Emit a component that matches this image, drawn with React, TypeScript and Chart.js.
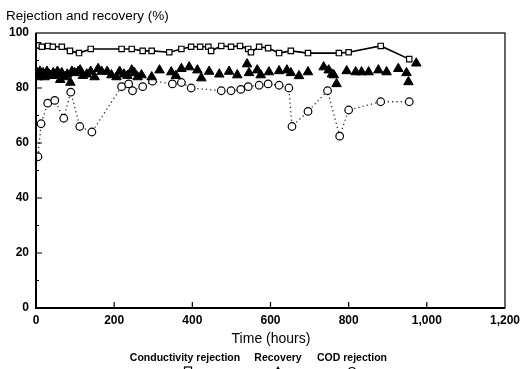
import React, { useEffect, useRef } from "react";
import { Chart, registerables } from "chart.js";

Chart.register(...registerables);

// ---- Data ----
const xTicks = [0, 200, 400, 600, 800, 1000, 1200];
const yTicks = [0, 20, 40, 60, 80, 100];
const yMinorTicks = [10, 30, 50, 70, 90];

const condHours = [0, 5, 15, 31, 43, 66, 87, 110, 140, 219, 245, 273, 296, 341, 372, 397, 420, 441, 448, 474, 499, 522, 543, 550, 571, 594, 622, 652, 696, 775, 800, 882, 955];
const condValues = [95.5, 95.5, 95, 95.3, 95, 95, 93.5, 92.7, 94.2, 94.2, 94.2, 93.5, 93.5, 93, 94.2, 95, 95, 95, 93.5, 95.3, 95, 95.3, 94.2, 93, 95, 94.5, 92.7, 93.5, 92.7, 92.7, 93, 95.3, 90.5];

const recHours = [0, 3, 6, 10, 14, 18, 22, 28, 33, 38, 44, 48, 55, 62, 66, 74, 80, 88, 92, 99, 108, 113, 120, 130, 140, 150, 159, 168, 182, 193, 206, 214, 225, 234, 245, 252, 260, 270, 296, 316, 346, 358, 372, 392, 413, 423, 443, 469, 494, 515, 540, 545, 566, 575, 596, 622, 642, 652, 673, 696, 736, 749, 757, 762, 769, 795, 818, 833, 851, 876, 897, 927, 948, 953, 973];
const recValues = [84.5, 85.5, 84, 86, 85, 85.5, 84, 86, 85, 84.5, 85.5, 84.5, 86, 83, 85.5, 84, 85, 82, 86, 85.5, 86, 86.5, 84.5, 85, 86, 84, 87, 86, 86, 84.7, 84, 86, 85, 84.5, 86.5, 85.5, 84, 84.7, 84, 86.5, 85.8, 84.5, 87, 87.6, 86.5, 83.6, 86, 85, 86, 84.7, 88.7, 85.5, 86.5, 84.7, 85.8, 86.2, 86.5, 85.5, 84.4, 85.8, 87.6, 86.5, 85, 84.7, 81.5, 86.2, 85.8, 85.8, 85.8, 86.5, 85.8, 87, 85.5, 82.2, 89];

const codHours = [5, 13, 30, 48, 71, 89, 112, 143, 219, 237, 247, 273, 298, 349, 372, 397, 474, 499, 524, 543, 571, 594, 622, 647, 655, 696, 746, 777, 800, 882, 955];
const codValues = [55, 67, 74.5, 75.5, 69, 78.5, 66, 64, 80.5, 81.5, 79, 80.5, 82.5, 81.5, 82, 80, 79, 79, 79.5, 80.5, 81, 81.5, 81, 80, 66, 71.5, 79, 62.5, 72, 75, 75];

const seriesNames = ["Conductivity rejection", "Recovery", "COD rejection"];
const titleText = "Rejection and recovery (%)";
const xTitleText = "Time (hours)";

const toPoints = (xs: number[], ys: number[]) => xs.map((x, i) => ({ x, y: ys[i] }));

const fmt = (v: number) => (v >= 1000 ? String(v).replace(/(\d)(\d{3})$/, "$1,$2") : String(v));

const decorPlugin = {
  id: "decor",
  afterDraw(chart: any) {
    const { ctx, chartArea: a, scales } = chart;
    const xs = scales.x;
    const ys = scales.y;
    ctx.save();
    // frame
    ctx.strokeStyle = "#000";
    ctx.lineWidth = 1.2;
    ctx.strokeRect(a.left, a.top, a.right - a.left, a.bottom - a.top);
    ctx.lineWidth = 2;
    ctx.beginPath();
    ctx.moveTo(a.left, a.top);
    ctx.lineTo(a.left, a.bottom);
    ctx.lineTo(a.right, a.bottom);
    ctx.stroke();
    // inward ticks
    ctx.lineWidth = 1.2;
    ctx.beginPath();
    xTicks.forEach((t) => {
      if (t === 0 || t === 1200) return;
      const px = xs.getPixelForValue(t);
      ctx.moveTo(px, a.bottom);
      ctx.lineTo(px, a.bottom - 6);
    });
    yTicks.forEach((t) => {
      if (t === 0 || t === 100) return;
      const py = ys.getPixelForValue(t);
      ctx.moveTo(a.left, py);
      ctx.lineTo(a.left + 6, py);
    });
    yMinorTicks.forEach((t) => {
      const py = ys.getPixelForValue(t);
      ctx.moveTo(a.left, py);
      ctx.lineTo(a.left + 3, py);
    });
    ctx.stroke();

    ctx.fillStyle = "#000";
    ctx.textBaseline = "alphabetic";
    // title
    ctx.textAlign = "left";
    ctx.font = '13.5px "Liberation Sans", Arial, sans-serif';
    ctx.fillText(titleText, 6, 20, 183);
    // x axis title
    ctx.textAlign = "center";
    ctx.font = '14px "Liberation Sans", Arial, sans-serif';
    ctx.fillText(xTitleText, 271, 343, 85);
    // legend
    ctx.font = 'bold 10.5px "Liberation Sans", Arial, sans-serif';
    const centers = [185, 278, 352];
    const widths = [114, 49, 75];
    seriesNames.forEach((n, i) => ctx.fillText(n, centers[i], 361, widths[i]));
    // legend markers (mostly cut by the bottom edge)
    ctx.lineWidth = 1.2;
    ctx.strokeStyle = "#000";
    ctx.strokeRect(centers[0] + 3 - 3.5, 367, 7, 7);
    ctx.beginPath();
    ctx.moveTo(centers[1], 366);
    ctx.lineTo(centers[1] - 4, 373);
    ctx.lineTo(centers[1] + 4, 373);
    ctx.closePath();
    ctx.fill();
    ctx.beginPath();
    ctx.arc(centers[2], 371, 3.5, 0, Math.PI * 2);
    ctx.stroke();
    ctx.restore();
  },
};

export default function App() {
  const ref = useRef<HTMLCanvasElement | null>(null);
  useEffect(() => {
    if (!ref.current) return;
    const tickFont = { family: '"Liberation Sans", Arial, sans-serif', size: 12, weight: "bold" as const };
    const chart = new Chart(ref.current, {
      type: "scatter",
      data: {
        datasets: [
          {
            label: seriesNames[0],
            data: toPoints(condHours, condValues),
            showLine: true,
            borderColor: "#000",
            borderWidth: 1.6,
            pointStyle: "rect",
            pointRadius: 3.8,
            pointBackgroundColor: "#fff",
            pointBorderColor: "#000",
            pointBorderWidth: 1.2,
          },
          {
            label: seriesNames[1],
            data: toPoints(recHours, recValues),
            showLine: false,
            pointStyle: "triangle",
            pointRadius: 5.5,
            pointBackgroundColor: "#000",
            pointBorderColor: "#000",
            pointBorderWidth: 1,
          },
          {
            label: seriesNames[2],
            data: toPoints(codHours, codValues),
            showLine: true,
            borderColor: "#333",
            borderWidth: 1.3,
            borderDash: [1.3, 3],
            pointStyle: "circle",
            pointRadius: 3.8,
            pointBackgroundColor: "#fff",
            pointBorderColor: "#000",
            pointBorderWidth: 1.2,
          },
        ],
      },
      options: {
        animation: false,
        responsive: false,
        maintainAspectRatio: false,
        layout: { padding: { left: 0, right: 18, top: 33, bottom: 0 } },
        plugins: { legend: { display: false }, tooltip: { enabled: false }, title: { display: false } },
        scales: {
          x: {
            type: "linear",
            min: 0,
            max: 1200,
            afterBuildTicks: (s: any) => {
              s.ticks = xTicks.map((v) => ({ value: v }));
            },
            afterFit: (s: any) => {
              s.height = 61;
            },
            grid: { display: false, drawTicks: false },
            border: { display: false },
            ticks: { color: "#000", font: tickFont, padding: 5, maxRotation: 0, callback: (v: any) => fmt(Number(v)) },
          },
          y: {
            type: "linear",
            min: 0,
            max: 100,
            afterBuildTicks: (s: any) => {
              s.ticks = yTicks.map((v) => ({ value: v }));
            },
            afterFit: (s: any) => {
              s.width = 36;
            },
            grid: { display: false, drawTicks: false },
            border: { display: false },
            ticks: { color: "#000", font: tickFont, padding: 7, callback: (v: any) => String(v) },
          },
        },
      },
      plugins: [decorPlugin],
    });
    return () => chart.destroy();
  }, []);
  return (
    <div style={{ position: "fixed", left: 0, top: 0, width: 525, height: 369, background: "#fff" }}>
      <canvas ref={ref} width={525} height={369} style={{ width: 525, height: 369, display: "block" }} />
    </div>
  );
}
